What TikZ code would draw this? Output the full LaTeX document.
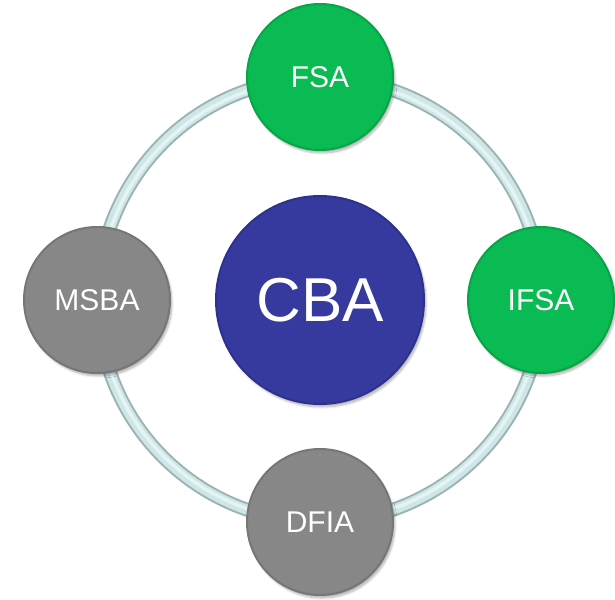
\documentclass[tikz,border=0pt]{standalone}
\usepackage{fontspec}
\setmainfont{Liberation Sans}
\usetikzlibrary{shadows.blur}
\definecolor{ringdark}{HTML}{9CB3B5}
\definecolor{ringlight}{HTML}{CFE6E6}
\definecolor{ringhi}{HTML}{E4F3F3}
\definecolor{greenfill}{HTML}{0ABA52}
\definecolor{greenrim}{HTML}{08A448}
\definecolor{bluefill}{HTML}{363A9E}
\definecolor{bluerim}{HTML}{2E328E}
\definecolor{greyfill}{HTML}{878787}
\definecolor{greyrim}{HTML}{767676}
\tikzset{
  ball/.style={circle, minimum size=146pt, inner sep=0pt, line width=2pt,
    text=white, font=\fontsize{30}{30}\selectfont,
    blur shadow={shadow xshift=2pt, shadow yshift=-3pt, shadow blur steps=6, shadow opacity=30}},
  greenball/.style={ball, fill=greenfill, draw=greenrim},
  greyball/.style={ball, fill=greyfill, draw=greyrim},
  centerball/.style={ball, minimum size=208pt, fill=bluefill, draw=bluerim,
    font=\fontsize{62}{62}\selectfont}
}
\begin{document}
\begin{tikzpicture}[x=1pt,y=-1pt]
\useasboundingbox (0,0) rectangle (615,599);
\coordinate (o) at (320,300);
\draw[ringdark, line width=14pt] (o) circle (222);
\draw[ringlight, line width=10pt] (o) circle (222);
\draw[ringhi, line width=3.5pt] (o) circle (221);
\node[centerball] (cba) at (320,300) {CBA};
\node[greenball] (fsa) at (320,77) {FSA};
\node[greenball] (ifsa) at (541,300) {IFSA};
\node[greyball] (msba) at (97,300) {MSBA};
\node[greyball] (dfia) at (320,522) {DFIA};
\end{tikzpicture}
\end{document}
